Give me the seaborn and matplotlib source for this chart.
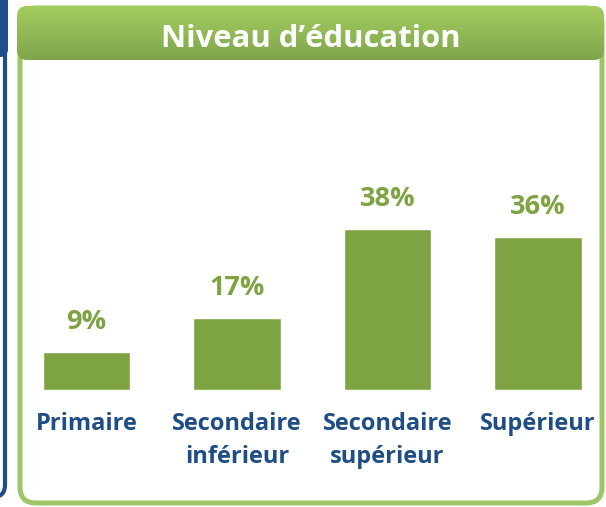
import numpy as np
import pandas as pd
import seaborn as sns
import matplotlib.pyplot as plt
from matplotlib.patches import FancyBboxPatch
from matplotlib.colors import LinearSegmentedColormap

# Données du graphique
categories = ["Primaire", "Secondaire\ninférieur", "Secondaire\nsupérieur", "Supérieur"]
values = [9, 17, 38, 36]
title = "Niveau d\u2019éducation"

# Couleurs
bar_green = "#7ea342"
border_green = "#9dc667"
label_blue = "#1f4e86"
strip_blue = "#1f4e8a"

W, H = 606, 507
DPI = 100

sns.set_theme(style="white")
plt.rcParams['font.family'] = ['Open Sans', 'DejaVu Sans']

fig = plt.figure(figsize=(W / DPI, H / DPI), dpi=DPI)
fig.patch.set_facecolor("white")


def fx(px):
    return px / W


def fy(py):
    # py mesuré depuis le haut de l'image
    return 1 - py / H


def box(x0, y0, x1, y1, r, **kw):
    """Rectangle arrondi en pixels (y depuis le haut)."""
    p = FancyBboxPatch((fx(x0), fy(y1)), fx(x1 - x0), (y1 - y0) / H,
                       boxstyle=f"round,pad=0,rounding_size={r / W}",
                       transform=fig.transFigure, mutation_aspect=W / H, **kw)
    fig.add_artist(p)
    return p


# Bande bleue à gauche (bord d'un autre panneau)
box(-40, -20, 8, 57, 8, facecolor=strip_blue, edgecolor="none", zorder=-2)
box(-40, -20, 5, 497, 12, facecolor="none", edgecolor=strip_blue, lw=3.0, zorder=-2)

# Panneau vert
box(20, 8, 602, 503, 16, facecolor="white", edgecolor=border_green, lw=3.6, zorder=-2)

# En-tête avec dégradé
hx0, hy0, hx1, hy1 = 17, 6, 604, 60
hax = fig.add_axes([fx(hx0), fy(hy1), fx(hx1 - hx0), (hy1 - hy0) / H])
hax.set_axis_off()
grad = np.linspace(0, 1, 64).reshape(-1, 1)
cmap = LinearSegmentedColormap.from_list("hdr", ["#a3cd5f", "#7fa54c"])
img = hax.imshow(grad, aspect="auto", cmap=cmap, extent=[0, 1, 0, 1], origin="upper")
clip = FancyBboxPatch((0, 0), 1, 1, boxstyle=f"round,pad=0,rounding_size={10 / (hx1 - hx0)}",
                      transform=hax.transAxes, mutation_aspect=(hx1 - hx0) / (hy1 - hy0),
                      facecolor="none", edgecolor="none")
hax.add_patch(clip)
img.set_clip_path(clip)
hax.set_xlim(0, 1)
hax.set_ylim(0, 1)
hax.text(0.5, 0.24, title, ha="center", va="baseline", color="white",
         fontsize=22.3, fontweight="bold", transform=hax.transAxes)

# Axe des barres
step = 150.5
c0 = 86.5
xl = (-0.4, 3.4)
left_px = c0 + xl[0] * step
width_px = (xl[1] - xl[0]) * step
base_py = 390
ymax = 50
px_per_unit = 4.25
ax = fig.add_axes([fx(left_px), fy(base_py), fx(width_px), ymax * px_per_unit / H])
ax.set_facecolor("none")

df = pd.DataFrame({"niveau": categories, "part": values})
sns.barplot(data=df, x="niveau", y="part", color=bar_green, saturation=1,
            width=0.58, ax=ax)
ax.set_xlim(*xl)
ax.set_ylim(0, ymax)
ax.bar_label(ax.containers[0], labels=[f"{v}%" for v in values], padding=12,
             color=bar_green, fontsize=19.5, fontweight="bold")

ax.set_xlabel("")
ax.set_ylabel("")
ax.set_yticks([])
ax.tick_params(axis="x", length=0, pad=16)
for lab in ax.get_xticklabels():
    lab.set_color(label_blue)
    lab.set_fontsize(17)
    lab.set_fontweight("bold")
    lab.set_linespacing(1.5)
sns.despine(ax=ax, left=True, bottom=True)

fig.savefig("out.png", dpi=DPI)
